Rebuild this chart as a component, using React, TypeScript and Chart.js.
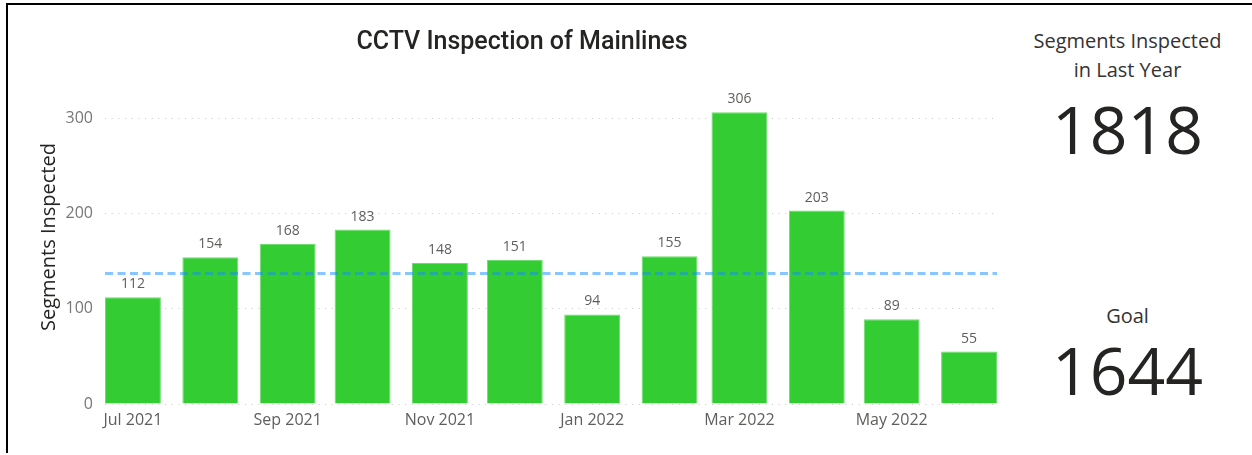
import React, { useEffect, useRef } from "react";
import { Chart, registerables } from "chart.js";

Chart.register(...registerables);

// ---- data ----
const months = [
  "2021-07", "2021-08", "2021-09", "2021-10", "2021-11", "2021-12",
  "2022-01", "2022-02", "2022-03", "2022-04", "2022-05", "2022-06",
];
const segmentsInspected = [112, 154, 168, 183, 148, 151, 94, 155, 306, 203, 89, 55];
const goalMonthly = 137;
const tickMonths = ["2021-07", "2021-09", "2021-11", "2022-01", "2022-03", "2022-05"];
const tickLabels = ["Jul 2021", "Sep 2021", "Nov 2021", "Jan 2022", "Mar 2022", "May 2022"];
const yTicks = [0, 100, 200, 300];
const yMax = 320;
const totalLastYear = 1818;
const goalTotal = 1644;
const chartTitle = "CCTV Inspection of Mainlines";
const yAxisTitle = "Segments Inspected";

const DAY = 86400000;
const origin = Date.UTC(2021, 6, 1);
const monthToDay = (m: string) => {
  const [y, mo] = m.split("-").map(Number);
  return (Date.UTC(y, mo - 1, 1) - origin) / DAY;
};

const FONT = "'Open Sans', 'Noto Sans', sans-serif";

const goalLinePlugin = {
  id: "goalLine",
  afterDatasetsDraw(chart: any) {
    const { ctx, chartArea, scales } = chart;
    const y = scales.y.getPixelForValue(goalMonthly);
    ctx.save();
    ctx.strokeStyle = "rgba(17,141,255,0.5)";
    ctx.lineWidth = 3;
    ctx.setLineDash([8, 4.5]);
    ctx.beginPath();
    ctx.moveTo(chartArea.left, y);
    ctx.lineTo(chartArea.right, y);
    ctx.stroke();
    ctx.restore();

    // data labels
    const meta = chart.getDatasetMeta(0);
    ctx.save();
    ctx.fillStyle = "#605E5C";
    ctx.font = `14px ${FONT}`;
    ctx.textAlign = "center";
    ctx.textBaseline = "middle";
    meta.data.forEach((bar: any, i: number) => {
      ctx.fillText(String(segmentsInspected[i]), bar.x, bar.y - 13);
    });
    ctx.restore();
  },
};

function BarChart() {
  const ref = useRef<HTMLCanvasElement | null>(null);
  useEffect(() => {
    if (!ref.current) return;
    const days = months.map(monthToDay);
    const halfBar = 11.2;
    const chart = new Chart(ref.current, {
      type: "bar",
      data: {
        datasets: [
          {
            data: days.map((d, i) => ({ x: d, y: segmentsInspected[i] })),
            backgroundColor: "#33CC33",
            borderColor: "#6FDC6F",
            borderWidth: 1,
            barPercentage: 0.8,
            categoryPercentage: 1,
          } as any,
        ],
      },
      options: {
        animation: false,
        responsive: false,
        layout: { padding: { left: 0, right: 13, top: 99, bottom: 0 } },
        plugins: {
          legend: { display: false },
          tooltip: { enabled: false },
          title: { display: false },
        },
        scales: {
          x: {
            type: "linear",
            offset: false,
            min: days[0] - halfBar,
            max: days[days.length - 1] + halfBar,
            grid: { display: false, drawTicks: false },
            border: { display: false },
            afterBuildTicks: (scale: any) => {
              scale.ticks = tickMonths.map((m) => ({ value: monthToDay(m) }));
            },
            afterFit: (scale: any) => {
              scale.height = 51;
            },
            ticks: {
              autoSkip: false,
              maxRotation: 0,
              padding: 7,
              color: "#605E5C",
              font: { family: FONT, size: 16 },
              callback: (value: any) => {
                const idx = tickMonths.findIndex((m) => monthToDay(m) === value);
                return idx >= 0 ? tickLabels[idx] : "";
              },
            },
          },
          y: {
            min: 0,
            max: yMax,
            grid: { color: "#C8C8C8", lineWidth: 1, drawTicks: false },
            border: { display: false, dash: [1, 5.67] },
            afterBuildTicks: (scale: any) => {
              scale.ticks = yTicks.map((v) => ({ value: v }));
            },
            afterFit: (scale: any) => {
              scale.width = 105;
            },
            ticks: {
              padding: 12,
              color: "#777777",
              font: { family: FONT, size: 16 },
            },
          },
        },
      },
      plugins: [goalLinePlugin],
    });
    return () => chart.destroy();
  }, []);
  return <canvas ref={ref} width={1010} height={455} style={{ position: "absolute", left: 0, top: 0 }} />;
}

export default function App() {
  return (
    <div
      style={{
        position: "fixed",
        left: 0,
        top: 0,
        width: 1252,
        height: 455,
        background: "#fff",
        overflow: "hidden",
        fontFamily: FONT,
      }}
    >
      <div
        style={{
          position: "absolute",
          left: 6,
          top: 3,
          right: 0,
          bottom: 2,
          borderTop: "2px solid #000",
          borderLeft: "2px solid #000",
        }}
      />
      <BarChart />
      <div
        style={{
          position: "absolute",
          left: 222,
          width: 600,
          top: 24,
          textAlign: "center",
          fontFamily: "Roboto, sans-serif",
          fontSize: 25,
          fontWeight: 500,
          lineHeight: "34px",
          color: "#252423",
        }}
      >
        {chartTitle}
      </div>
      <div
        style={{
          position: "absolute",
          left: 48 - 150,
          top: 237 - 13,
          width: 300,
          height: 26,
          lineHeight: "26px",
          textAlign: "center",
          fontSize: 20,
          color: "#252423",
          transform: "rotate(-90deg)",
          whiteSpace: "nowrap",
        }}
      >
        {yAxisTitle}
      </div>
      <div
        style={{
          position: "absolute",
          left: 1010,
          width: 235,
          top: 26,
          textAlign: "center",
          fontSize: 20,
          lineHeight: "29px",
          color: "#333333",
        }}
      >
        Segments Inspected
        <br />
        in Last Year
      </div>
      <div
        style={{
          position: "absolute",
          left: 1010,
          width: 235,
          top: 128 - 50,
          height: 100,
          lineHeight: "100px",
          textAlign: "center",
          fontSize: 66,
          color: "#252423",
        }}
      >
        {totalLastYear}
      </div>
      <div
        style={{
          position: "absolute",
          left: 1010,
          width: 235,
          top: 316 - 15,
          lineHeight: "30px",
          textAlign: "center",
          fontSize: 20,
          color: "#333333",
        }}
      >
        Goal
      </div>
      <div
        style={{
          position: "absolute",
          left: 1010,
          width: 235,
          top: 369 - 50,
          height: 100,
          lineHeight: "100px",
          textAlign: "center",
          fontSize: 66,
          color: "#252423",
        }}
      >
        {goalTotal}
      </div>
    </div>
  );
}
